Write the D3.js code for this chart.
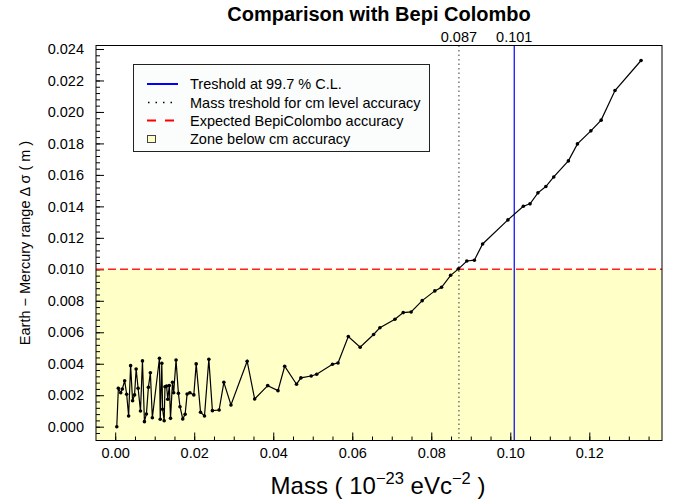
<!DOCTYPE html>
<html>
<head>
<meta charset="utf-8">
<script src="https://cdn.jsdelivr.net/npm/d3@7"></script>
<style>
body { margin: 0; background: #fff; }
svg text { font-family: "Liberation Sans", Arial, Helvetica, sans-serif; fill: #000; }
</style>
</head>
<body>
<svg id="vis" width="678" height="500"></svg>
<script>
// mass (10^-23 eV c^-2) and Earth-Mercury range sigma (m)
var mass = [0.0004, 0.0008, 0.0014, 0.0018, 0.0024, 0.0029, 0.0034, 0.0039, 0.0044, 0.0049,
    0.0053, 0.0058, 0.0064, 0.0069, 0.0074, 0.0079, 0.0084, 0.0089, 0.0094, 0.0112,
    0.0114, 0.0118, 0.0120, 0.0124, 0.0126, 0.0130, 0.0133, 0.0137, 0.0140, 0.0145,
    0.0148, 0.0154, 0.0160, 0.0164, 0.0171, 0.0177, 0.0182, 0.0189, 0.0199, 0.0205,
    0.0216, 0.0226, 0.0237, 0.0246, 0.0263, 0.0275, 0.0293, 0.0334, 0.0353, 0.0386,
    0.0412, 0.0429, 0.0459, 0.0470, 0.0496, 0.0510, 0.0550, 0.0564, 0.0590, 0.0620,
    0.0654, 0.0670, 0.0708, 0.0729, 0.0749, 0.0777, 0.0809, 0.0826, 0.0849, 0.0869,
    0.0890, 0.0909, 0.0930, 0.0994, 0.1033, 0.1050, 0.1070, 0.1090, 0.1110, 0.1147,
    0.1170, 0.1204, 0.1230, 0.1265, 0.1331];
var sigma = [0.00000, 0.00244, 0.00216, 0.00240, 0.00292, 0.00206, 0.00068, 0.00388, 0.00165, 0.00202,
    0.00367, 0.00244, 0.00100, 0.00418, 0.00032, 0.00081, 0.00250, 0.00343, 0.00057, 0.00435,
    0.00047, 0.00403, 0.00111, 0.00038, 0.00254, 0.00259, 0.00174, 0.00261, 0.00053, 0.00282,
    0.00216, 0.00424, 0.00212, 0.00127, 0.00049, 0.00079, 0.00208, 0.00216, 0.00202, 0.00399,
    0.00092, 0.00068, 0.00428, 0.00102, 0.00106, 0.00282, 0.00138, 0.00416, 0.00176, 0.00261,
    0.00229, 0.00384, 0.00270, 0.00310, 0.00322, 0.00333, 0.00397, 0.00405, 0.00573, 0.00505,
    0.00586, 0.00629, 0.00683, 0.00725, 0.00729, 0.00801, 0.00863, 0.00886, 0.00962, 0.01003,
    0.01053, 0.01058, 0.01161, 0.01314, 0.01401, 0.01416, 0.01486, 0.01526, 0.01587, 0.01689,
    0.01797, 0.01880, 0.01948, 0.02136, 0.02327];

var massTreshold = 0.087;
var clTreshold = 0.101;
var bepiAccuracy = 0.010;

var xTickValues = [0.00, 0.02, 0.04, 0.06, 0.08, 0.10, 0.12];
var yTickValues = [0.000, 0.002, 0.004, 0.006, 0.008, 0.010, 0.012, 0.014, 0.016, 0.018, 0.020, 0.022, 0.024];
var legendLabels = ['Treshold at 99.7 % C.L.', 'Mass treshold for cm level accuracy',
    'Expected BepiColombo accuracy', 'Zone below cm accuracy'];

var frame = {left: 96, right: 662, top: 45.5, bottom: 440.5};
var yellow = '#ffffc8';

var svg = d3.select('#vis');

var x = d3.scaleLinear().domain([-0.00486, 0.1384]).range([frame.left, frame.right]);
var y = d3.scaleLinear().domain([-0.000877, 0.024222]).range([frame.bottom, frame.top]);

// zone below cm accuracy
svg.append('rect')
    .attr('x', frame.left).attr('width', frame.right - frame.left)
    .attr('y', y(bepiAccuracy)).attr('height', frame.bottom - y(bepiAccuracy))
    .attr('fill', yellow);

// axes: minor then major ticks, pointing into the frame
var xMinor = d3.range(0, 0.1384, 0.005);
var yMinor = d3.range(-0.0004, 0.0242, 0.0004);

svg.append('g').attr('transform', 'translate(0,' + frame.bottom + ')')
    .call(d3.axisBottom(x).tickValues(xMinor).tickSizeInner(-4).tickSizeOuter(0).tickFormat(''));
svg.append('g').attr('transform', 'translate(' + frame.left + ',0)')
    .call(d3.axisLeft(y).tickValues(yMinor).tickSizeInner(-4).tickSizeOuter(0).tickFormat(''));

svg.append('g').attr('class', 'xaxis').attr('transform', 'translate(0,' + frame.bottom + ')')
    .call(d3.axisBottom(x).tickValues(xTickValues).tickSizeInner(-8).tickSizeOuter(0)
        .tickPadding(7).tickFormat(d3.format('.2f')));
svg.append('g').attr('class', 'yaxis').attr('transform', 'translate(' + frame.left + ',0)')
    .call(d3.axisLeft(y).tickValues(yTickValues).tickSizeInner(-8).tickSizeOuter(0)
        .tickPadding(12).tickFormat(d3.format('.3f')));

svg.selectAll('.domain').remove();
svg.selectAll('.tick line').attr('stroke', '#000');
svg.selectAll('.tick text').attr('font-size', 14.5).attr('font-family', null);

// reference lines
svg.append('line')
    .attr('x1', frame.left).attr('x2', frame.right)
    .attr('y1', y(bepiAccuracy)).attr('y2', y(bepiAccuracy))
    .attr('stroke', '#ff2020').attr('stroke-width', 1.5).attr('stroke-dasharray', '8,4');
svg.append('line')
    .attr('x1', x(massTreshold)).attr('x2', x(massTreshold))
    .attr('y1', frame.top).attr('y2', frame.bottom)
    .attr('stroke', '#555').attr('stroke-width', 1.2).attr('stroke-dasharray', '1.5,3');
svg.append('line')
    .attr('x1', x(clTreshold)).attr('x2', x(clTreshold))
    .attr('y1', frame.top).attr('y2', frame.bottom)
    .attr('stroke', '#0000ff').attr('stroke-width', 1.2);

// data curve
var points = mass.map(function (m, i) { return [m, sigma[i]]; });
var line = d3.line().x(function (d) { return x(d[0]); }).y(function (d) { return y(d[1]); });

svg.append('path').datum(points)
    .attr('d', line).attr('fill', 'none').attr('stroke', '#000').attr('stroke-width', 1.2);
svg.selectAll('circle.pt').data(points).enter().append('circle')
    .attr('class', 'pt')
    .attr('cx', function (d) { return x(d[0]); })
    .attr('cy', function (d) { return y(d[1]); })
    .attr('r', 1.8).attr('fill', '#000');

// frame
svg.append('rect')
    .attr('x', frame.left).attr('y', frame.top)
    .attr('width', frame.right - frame.left).attr('height', frame.bottom - frame.top)
    .attr('fill', 'none').attr('stroke', '#000').attr('stroke-width', 1);

// labels for the two thresholds above the frame
svg.selectAll('text.thr').data([massTreshold, clTreshold]).enter().append('text')
    .attr('class', 'thr')
    .attr('x', function (d) { return x(d); }).attr('y', 41.5)
    .attr('text-anchor', 'middle').attr('font-size', 14.5)
    .text(function (d) { return d3.format('.3f')(d); });

// title and axis titles
svg.append('text').attr('x', (frame.left + frame.right) / 2).attr('y', 21)
    .attr('text-anchor', 'middle').attr('font-size', 20).attr('font-weight', 'bold')
    .text('Comparison with Bepi Colombo');

var xt = svg.append('text').attr('x', 378).attr('y', 494)
    .attr('text-anchor', 'middle').attr('font-size', 24);
xt.append('tspan').text('Mass ( 10');
xt.append('tspan').attr('dy', -10).attr('font-size', 16.5).text('\u221223');
xt.append('tspan').attr('dy', 10).text(' eVc');
xt.append('tspan').attr('dy', -10).attr('font-size', 16.5).text('\u22122');
xt.append('tspan').attr('dy', 10).text(' )');

svg.append('text').attr('transform', 'translate(30,243) rotate(-90)')
    .attr('text-anchor', 'middle').attr('font-size', 14.5)
    .text('Earth \u2212 Mercury range \u0394 \u03c3 ( m )');

// legend
var lg = svg.append('g');
lg.append('rect').attr('x', 133.5).attr('y', 64.5).attr('width', 296).attr('height', 87)
    .attr('fill', '#fbfdfd').attr('stroke', '#222').attr('stroke-width', 1);

var rowY = [84, 102.5, 120.5, 139];
lg.selectAll('text').data(legendLabels).enter().append('text')
    .attr('x', 190).attr('y', function (d, i) { return rowY[i] + 5; })
    .attr('font-size', 14.5)
    .text(function (d) { return d; });

lg.append('line').attr('x1', 147).attr('x2', 178).attr('y1', rowY[0]).attr('y2', rowY[0])
    .attr('stroke', '#0000ff').attr('stroke-width', 2);
lg.append('line').attr('x1', 148).attr('x2', 178).attr('y1', rowY[1]).attr('y2', rowY[1])
    .attr('stroke', '#000').attr('stroke-width', 1.5).attr('stroke-dasharray', '1.5,6');
lg.append('line').attr('x1', 147).attr('x2', 178).attr('y1', rowY[2]).attr('y2', rowY[2])
    .attr('stroke', '#ff0000').attr('stroke-width', 2).attr('stroke-dasharray', '9,9');
lg.append('rect').attr('x', 147.5).attr('y', rowY[3] - 3.5).attr('width', 8).attr('height', 7)
    .attr('fill', yellow).attr('stroke', '#444').attr('stroke-width', 1);
</script>
</body>
</html>
